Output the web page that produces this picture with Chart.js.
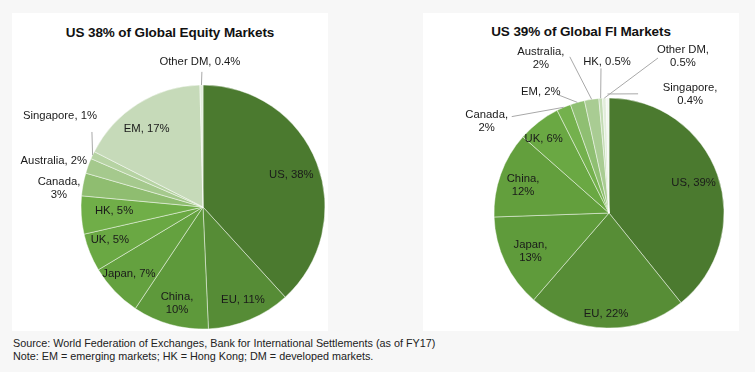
<!DOCTYPE html>
<html>
<head>
<meta charset="utf-8">
<script src="https://cdn.jsdelivr.net/npm/chart.js@4"></script>
<style>
  html, body { margin: 0; padding: 0; background: #f7f7f7; width: 755px; height: 372px; overflow: hidden; font-family: "Liberation Sans", Arial, sans-serif; }
  .panel { position: absolute; background: #ffffff; }
  .title { position: absolute; width: 100%; text-align: center; font-weight: bold; font-size: 13.5px; color: #111; letter-spacing: -0.1px; }
  canvas { position: absolute; left: 0; top: 0; }
  .note { position: absolute; left: 13px; font-size: 10.8px; color: #222; line-height: 13px; }
</style>
</head>
<body>
<div class="panel" id="p1" style="left:12px; top:13px; width:316px; height:318px;">
  <div class="title" style="top:12px;">US 38% of Global Equity Markets</div>
  <canvas id="c1" width="316" height="318"></canvas>
</div>
<div class="panel" id="p2" style="left:423px; top:13px; width:316px; height:318px;">
  <div class="title" style="top:11px;">US 39% of Global FI Markets</div>
  <canvas id="c2" width="316" height="318"></canvas>
</div>
<div class="note" style="top:337px;">Source: World Federation of Exchanges, Bank for International Settlements (as of FY17)<br>Note: EM = emerging markets; HK = Hong Kong; DM = developed markets.</div>
<script>
// ---- Data ----
const equityCategories = ["US", "EU", "China", "Japan", "UK", "HK", "Canada", "Australia", "Singapore", "EM", "Other DM"];
const equityValues = [38, 11, 10, 7, 5, 5, 3, 2, 1, 17, 0.4];
const equityLabels = ["US, 38%", "EU, 11%", "China,\n10%", "Japan, 7%", "UK, 5%", "HK, 5%", "Canada,\n3%", "Australia, 2%", "Singapore, 1%", "EM, 17%", "Other DM, 0.4%"];

const fiCategories = ["US", "EU", "Japan", "China", "UK", "Canada", "EM", "Australia", "HK", "Other DM", "Singapore"];
const fiValues = [39, 22, 13, 12, 6, 2, 2, 2, 0.5, 0.5, 0.4];
const fiLabels = ["US, 39%", "EU, 22%", "Japan,\n13%", "China,\n12%", "UK, 6%", "Canada,\n2%", "EM, 2%", "Australia,\n2%", "HK, 0.5%", "Other DM,\n0.5%", "Singapore,\n0.4%"];

// ---- Styles ----
const equityColors = ["#4b7a2f", "#568c36", "#5e993b", "#64a13f", "#6aa843", "#70ae48", "#8fbd70", "#a5c98d", "#b6d3a3", "#c6dab9", "#e4eedd"];
const fiColors = ["#4b7a2f", "#578d36", "#5f9b3b", "#639f3d", "#6aa843", "#74b14d", "#8fbf72", "#a9cc93", "#c3dbb4", "#e2eddb", "#f3f7f0"];

// label placement: r = fraction of radius, da = angle shift (deg) from slice mid-angle
// line: offset from label centre where the leader line starts; er = edge radius factor
const equityLabelPos = [
  {r: 0.77, da: 1.2}, {r: 0.83, da: -0.8}, {r: 0.82, da: -0.5}, {r: 0.82, da: 1.4},
  {r: 0.81, da: 2.4}, {r: 0.73, da: 1.2}, {r: 1.19, da: -3.4}, {r: 1.28, da: -2.5},
  {r: 1.39, da: 7.3, line: [32, 16]}, {r: 0.79, da: -3.5}, {r: 1.19, da: -0.5, line: [2, 10]}
];
const fiLabelPos = [
  {r: 0.78, da: 0}, {r: 0.88, da: 0.6}, {r: 0.76, da: -0.5}, {r: 0.785, da: -2.0},
  {r: 0.86, da: -3.6}, {r: 1.33, da: -29.9, line: [25, -4.5]}, {r: 1.21, da: -13.4, line: [17, 3]},
  {r: 1.47, da: -15.1, line: [29, -1.5]}, {r: 1.31, da: 3.4, line: [-6, 6]},
  {r: 1.505, da: 27.65, line: [-25, 1.5]}, {r: 1.25, da: 35.07, line: [-52, -0.5], er: 1.035}
];

const labelPlugin = {
  id: 'sliceLabels',
  afterDatasetsDraw(chart, args, opts) {
    const ctx = chart.ctx;
    const meta = chart.getDatasetMeta(0);
    const texts = opts.texts, pos = opts.pos;
    ctx.save();
    ctx.font = '11.3px "Liberation Sans", Arial, sans-serif';
    ctx.textAlign = 'center';
    ctx.textBaseline = 'middle';
    meta.data.forEach((arc, i) => {
      const p = pos[i];
      const mid = (arc.startAngle + arc.endAngle) / 2;
      const a = mid + p.da * Math.PI / 180;
      const R = arc.outerRadius;
      const lx = arc.x + Math.cos(a) * R * p.r;
      const ly = arc.y + Math.sin(a) * R * p.r;
      if (p.line) {
        const er = p.er || 1;
        ctx.strokeStyle = '#a8a8a8';
        ctx.lineWidth = 1;
        ctx.beginPath();
        ctx.moveTo(lx + p.line[0], ly + p.line[1]);
        ctx.lineTo(arc.x + Math.cos(mid) * R * er, arc.y + Math.sin(mid) * R * er);
        ctx.stroke();
      }
      const lines = texts[i].split('\n');
      const lh = 13;
      ctx.fillStyle = '#1a1a1a';
      lines.forEach((t, k) => {
        ctx.fillText(t, lx, ly + (k - (lines.length - 1) / 2) * lh);
      });
    });
    ctx.restore();
  }
};

function makePie(id, cats, vals, colors, texts, pos, padding, radius) {
  return new Chart(document.getElementById(id), {
    type: 'pie',
    data: {
      labels: cats,
      datasets: [{
        data: vals,
        backgroundColor: colors,
        borderColor: 'rgba(255,255,255,0.45)',
        borderWidth: 1,
        hoverOffset: 0
      }]
    },
    options: {
      responsive: false,
      animation: false,
      events: [],
      radius: radius,
      layout: { padding: padding },
      plugins: {
        legend: { display: false },
        tooltip: { enabled: false },
        title: { display: false },
        sliceLabels: { texts: texts, pos: pos }
      }
    },
    plugins: [labelPlugin]
  });
}

makePie('c1', equityCategories, equityValues, equityColors, equityLabels, equityLabelPos,
  {left: 69, right: 3, top: 72, bottom: 2}, 122);
makePie('c2', fiCategories, fiValues, fiColors, fiLabels, fiLabelPos,
  {left: 71, right: 15, top: 85, bottom: 3}, 115);
</script>
</body>
</html>
